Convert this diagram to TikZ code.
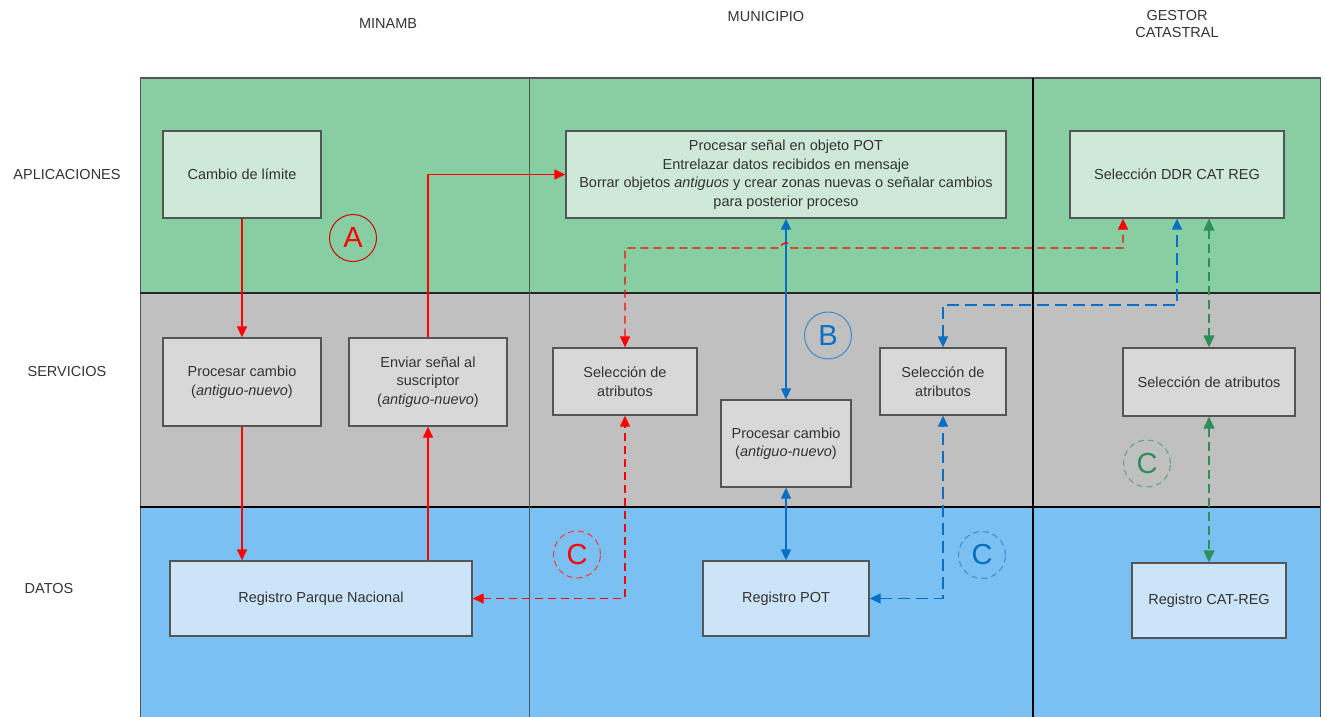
\documentclass[tikz,border=0pt]{standalone}
\usepackage{fontspec}
\setmainfont{Liberation Sans}
\usepackage{xcolor}
\usetikzlibrary{arrows.meta}

\definecolor{bandgreen}{HTML}{87CFA3}
\definecolor{bandgrey}{HTML}{C0C0C0}
\definecolor{bandblue}{HTML}{7BC0F2}
\definecolor{boxgreen}{HTML}{CFE9D8}
\definecolor{boxgrey}{HTML}{D8D8D8}
\definecolor{boxblue}{HTML}{CCE4F8}
\definecolor{boxline}{HTML}{555555}
\definecolor{txt}{HTML}{333333}
\definecolor{linered}{HTML}{FF0000}
\definecolor{lineblue}{HTML}{0A6EC4}
\definecolor{linegreen}{HTML}{2F8F5B}

\begin{document}
\begin{tikzpicture}[x=1pt,y=-1pt,
    lbl/.style={text=txt, font=\fontsize{14.5}{17}\selectfont, align=center, inner sep=0pt},
    box/.style={draw=boxline, line width=1.3pt, align=center, inner sep=0pt, text=txt,
        font=\fontsize{14.5}{18.5}\selectfont},
    redarrow/.style={draw=linered, line width=1.3pt, -{Triangle[length=11pt,width=10pt]}},
    reddash/.style={draw=linered, line width=1.3pt, dash pattern=on 8pt off 5pt,
        {Triangle[length=11pt,width=10pt]}-{Triangle[length=11pt,width=10pt]}},
    bluearrow/.style={draw=lineblue, line width=1.3pt,
        {Triangle[length=11pt,width=10pt]}-{Triangle[length=11pt,width=10pt]}},
    bluedash/.style={draw=lineblue, line width=1.3pt, dash pattern=on 12pt off 6pt,
        {Triangle[length=11pt,width=10pt]}-{Triangle[length=11pt,width=10pt]}},
    greendash/.style={draw=linegreen, line width=1.3pt, dash pattern=on 9pt off 5pt,
        {Triangle[length=12pt,width=11pt]}-{Triangle[length=12pt,width=11pt]}},
    tag/.style={circle, inner sep=0pt, minimum size=47pt, line width=1pt,
        font=\fontsize{29}{30}\selectfont}]

                \useasboundingbox (0,0) rectangle (1325,717);

                % Bands
                \fill[bandgreen] (140,78) rectangle (1320,293);
                \fill[bandgrey] (140,293) rectangle (1320,507);
                \fill[bandblue] (140,507) rectangle (1320,717);
                \draw[boxline, line width=1pt] (140,717) -- (140,78) -- (1320,78) -- (1320,717);
                \draw[black!85, line width=1.2pt] (140,293) -- (1320,293);
                \draw[black, line width=2pt] (140,507) -- (1320,507);
                \draw[boxline, line width=1pt] (529,78) -- (529,717);
                \draw[black, line width=2pt] (1033,78) -- (1033,717);

                % Column and row titles
                \node[lbl] (tminamb) at (388,24) {MINAMB};
                \node[lbl] (tmunicipio) at (766,17) {MUNICIPIO};
                \node[lbl] (tgestor) at (1177,24) {GESTOR\\CATASTRAL};
                \node[lbl] (tapl) at (67,175) {APLICACIONES};
                \node[lbl] (tserv) at (67,372) {SERVICIOS};
                \node[lbl] (tdatos) at (49,589) {DATOS};

                % Aplicaciones
                \node[box, fill=boxgreen, minimum width=158pt, minimum height=87pt] (cambio) at (242,174.5) {Cambio de límite};
                \node[box, fill=boxgreen, minimum width=440pt, minimum height=87pt] (pot) at (786,174.5) {Procesar señal en objeto POT\\Entrelazar datos recibidos en mensaje\\Borrar objetos \textit{antiguos} y crear zonas nuevas o señalar cambios\\para posterior proceso};
                \node[box, fill=boxgreen, minimum width=214pt, minimum height=87pt] (ddr) at (1177,174.5) {Selección DDR CAT REG};

                % Servicios
                \node[box, fill=boxgrey, minimum width=158pt, minimum height=88pt] (procA) at (242,382) {Procesar cambio\\(\textit{antiguo-nuevo})};
                \node[box, fill=boxgrey, minimum width=158pt, minimum height=88pt] (enviar) at (428,382) {Enviar señal al\\suscriptor\\(\textit{antiguo-nuevo})};
                \node[box, fill=boxgrey, minimum width=144pt, minimum height=67pt] (selA) at (625,381.5) {Selección de\\atributos};
                \node[box, fill=boxgrey, minimum width=130pt, minimum height=87pt] (procB) at (786,443.5) {Procesar cambio\\(\textit{antiguo-nuevo})};
                \node[box, fill=boxgrey, minimum width=126pt, minimum height=67pt] (selB) at (943,381.5) {Selección de\\atributos};
                \node[box, fill=boxgrey, minimum width=172pt, minimum height=68pt] (selC) at (1209,382) {Selección de atributos};

                % Datos
                \node[box, fill=boxblue, minimum width=302pt, minimum height=75pt] (regPN) at (321,598.5) {Registro Parque Nacional};
                \node[box, fill=boxblue, minimum width=166pt, minimum height=75pt] (regPOT) at (786,598.5) {Registro POT};
                \node[box, fill=boxblue, minimum width=154pt, minimum height=75pt] (regCAT) at (1209,600.5) {Registro CAT-REG};

                % Tags
                \node[tag, draw=linered!85!black, text=linered] (tagA) at (353,238) {A};
                \node[tag, draw=lineblue!80, text=lineblue] (tagB) at (828,335.5) {B};
                \node[tag, draw=linered!80, text=linered, dash pattern=on 6pt off 4pt] (tagCr) at (577,554.5) {C};
                \node[tag, draw=lineblue!80, text=lineblue, dash pattern=on 6pt off 4pt] (tagCb) at (982,555) {C};
                \node[tag, draw=linegreen!80, text=linegreen, dash pattern=on 6pt off 4pt] (tagCg) at (1147,463.5) {C};

                % Route levels
                \coordinate (redlevel) at (0,248);
                \coordinate (bluelevel) at (0,305);
                \coordinate (redturn) at ([xshift=-54pt]ddr.south);
                \coordinate (greenturn) at ([xshift=32pt]ddr.south);
                \coordinate (jump) at (pot.south |- redlevel);

                % MINAMB flow
                \draw[redarrow] (cambio.south) -- (procA.north);
                \draw[redarrow] (procA.south) -- (procA.south |- regPN.north);
                \draw[redarrow] (enviar.south |- regPN.north) -- (enviar.south);
                \draw[redarrow] (enviar.north) |- (pot.west);

                % Municipio flow
                \draw[bluearrow] (pot.south) -- (procB.north);
                \draw[bluearrow] (procB.south) -- (regPOT.north);
                \draw[reddash] (regPN.east) -| (selA.south);
                \draw[reddash] (selA.north) -- (selA.north |- redlevel) -- ([xshift=-5pt]jump)
                    .. controls ([xshift=-5pt,yshift=7pt]jump) and ([xshift=5pt,yshift=7pt]jump) .. ([xshift=5pt]jump)
                    -- (redturn |- redlevel) -- (redturn);
                \draw[bluedash] (regPOT.east) -| (selB.south);
                \draw[bluedash] (selB.north) |- (ddr.south |- bluelevel) -- (ddr.south);

                % Gestor catastral flow
                \draw[greendash] (greenturn) -- (greenturn |- selC.north);
                \draw[greendash] (selC.south) -- (regCAT.north);
\end{tikzpicture}
\end{document}
